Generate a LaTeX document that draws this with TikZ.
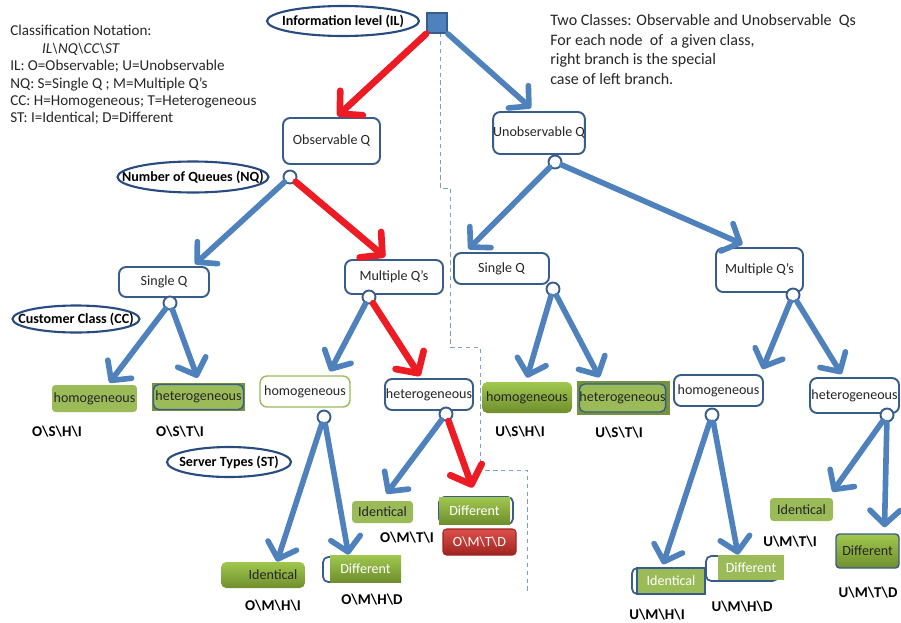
\documentclass[tikz,border=0pt]{standalone}
\usepackage{fontspec}
\setmainfont{Carlito}
\usetikzlibrary{arrows.meta,shapes.geometric,calc}

\definecolor{boxblue}{RGB}{56,93,138}
\definecolor{ovblue}{RGB}{41,76,128}
\definecolor{arrblue}{RGB}{79,129,189}
\definecolor{arrred}{RGB}{237,28,36}
\definecolor{grn}{RGB}{155,187,89}
\definecolor{grnlt}{RGB}{160,200,78}
\definecolor{grndk}{RGB}{112,142,46}
\definecolor{grnedge}{RGB}{118,146,60}
\definecolor{redlt}{RGB}{220,80,76}
\definecolor{reddk}{RGB}{160,36,32}
\definecolor{txtgray}{RGB}{38,38,38}

\newcommand\ovtext[1]{\makebox[0pt]{\bfseries #1}}
\newcommand\bsep{\textbackslash}

\tikzset{
  qbox/.style={draw=boxblue, line width=1.1pt, rounded corners=4pt, fill=white,
    inner sep=0pt, text=txtgray, font=\fontsize{8}{9}\selectfont},
  oval/.style={ellipse, draw=ovblue, line width=1.2pt, fill=white, inner sep=0pt,
    font=\fontsize{8}{9}\selectfont},
  knot/.style={circle, draw=boxblue, line width=1.1pt, fill=white,
    minimum size=2.6mm, inner sep=0pt},
  barrow/.style={draw=arrblue, line width=3.2pt, line cap=round,
    -{Straight Barb[length=8pt,width=17pt,round]}},
  rarrow/.style={draw=arrred, line width=3.8pt, line cap=round,
    -{Straight Barb[length=9pt,width=19pt,round]}},
  leaf/.style={inner sep=0pt, text=txtgray, font=\fontsize{8}{9}\selectfont},
  flatgrn/.style={leaf, fill=grn, rounded corners=2pt},
  shadegrn/.style={leaf, top color=grnlt, bottom color=grndk, rounded corners=3pt},
  whitegrn/.style={leaf, fill=grn, text=white},
  ghost/.style={draw=boxblue, line width=1pt, fill=white, rounded corners=3pt, inner sep=0pt},
  redbox/.style={leaf, top color=redlt, bottom color=reddk, draw=reddk, line width=.6pt,
    rounded corners=2pt, text=white},
  code/.style={font=\fontsize{8.5}{10}\selectfont\bfseries, text=black},
  note/.style={align=left, anchor=north west, inner sep=0pt, text=txtgray},
  dashline/.style={draw=arrblue!75, line width=.5pt, dash pattern=on 2.5pt off 2pt}
}

\begin{document}
\begin{tikzpicture}[x=0.02cm, y=-0.02cm]
\useasboundingbox (0,0) rectangle (901,622);

\node[note, font=\fontsize{8.6}{9.9}\selectfont] (notation) at (10,25)
  {Classification Notation:\\
   \hspace{2.1em}\textit{IL\bsep NQ\bsep CC\bsep ST}\\
   IL: O=Observable; U=Unobservable\\
   NQ: S=Single Q ; M=Multiple Q’s\\
   CC: H=Homogeneous; T=Heterogeneous\\
   ST: I=Identical; D=Different};
\node[note, font=\fontsize{9.1}{11.2}\selectfont] (remark) at (550,14)
  {Two Classes: Observable and Unobservable \ Qs\\
   For each node \ of \ a given class,\\
   right branch is the special\\
   case of left branch.};

\draw[dashline] (440,33) -- (440,188) -- (450,188) -- (450,347) -- (480,347)
  -- (480,470) -- (527,470) -- (527,593);

% levels
\node[oval, minimum width=30.4mm, minimum height=6mm] (ilo) at (343,21) {\ovtext{Information level (IL)}};
\node[oval, minimum width=30.2mm, minimum height=6.2mm] (nqo) at (193,177) {\ovtext{Number of Queues (NQ)}};
\node[oval, minimum width=25.4mm, minimum height=5.4mm] (cco) at (76,319) {\ovtext{Customer Class (CC)}};
\node[oval, minimum width=24.8mm, minimum height=6mm] (sto) at (229,462) {\ovtext{Server Types (ST)}};
\node[draw=boxblue, fill=arrblue, line width=1pt, minimum size=4mm, inner sep=0pt] (il) at (437,23) {};

% inner nodes
\node[qbox, minimum width=19.4mm, minimum height=9.2mm] (oq) at (331.5,141) {Observable Q};
\node[qbox, minimum width=17.4mm, minimum height=8.4mm] (uq) at (539,133) {Unobservable Q};
\node[qbox, minimum width=18mm, minimum height=6mm] (sql) at (164,282) {Single Q};
\node[qbox, minimum width=19.6mm, minimum height=6.8mm] (mql) at (394,277) {Multiple Q’s};
\node[qbox, minimum width=19mm, minimum height=6.2mm] (sqr) at (501.5,268.5) {Single Q};
\node[qbox, minimum width=17.4mm, minimum height=8.8mm] (mqr) at (759.5,270) {Multiple Q’s};
\node[qbox, draw=grn, line width=.8pt, minimum width=18mm, minimum height=6.2mm] (hom) at (305,391.5) {homogeneous};
\node[qbox, minimum width=17.6mm, minimum height=6.2mm] (hem) at (429,394.5) {heterogeneous};
\node[qbox, minimum width=17.8mm, minimum height=6.2mm] (homr) at (718.5,390.5) {homogeneous};
\node[qbox, minimum width=17.8mm, minimum height=7mm] (hemr) at (854.5,395.5) {heterogeneous};

\node[knot] (c0) at (290,177) {};
\node[knot] (c1) at (555,162) {};
\node[knot] (c2) at (170,303) {};
\node[knot] (c3) at (369,297) {};
\node[knot] (c4) at (553,289) {};
\node[knot] (c5) at (793,295) {};
\node[knot] (c6) at (324,417) {};
\node[knot] (c7) at (446,414) {};
\node[knot] (c8) at (712,415) {};
\node[knot] (c9) at (887,415) {};

% leaves
\node[flatgrn, minimum width=17mm, minimum height=5.4mm] (hol) at (94.5,398.5) {homogeneous};
\node[fill=grnedge, minimum width=18.6mm, minimum height=5.6mm, inner sep=0pt] (helo) at (198.5,397) {};
\node[leaf, fill=grn, draw=boxblue, line width=.8pt, rounded corners=3pt,
  minimum width=18mm, minimum height=5mm] (hel) at (198.5,397) {heterogeneous};
\node[shadegrn, minimum width=18mm, minimum height=6.2mm] (hor) at (527,397.5) {homogeneous};
\node[fill=grnedge, minimum width=18.6mm, minimum height=6.8mm, inner sep=0pt] (hero) at (623.5,398) {};
\node[leaf, fill=grn, draw=boxblue, line width=.8pt, rounded corners=3pt,
  minimum width=17mm, minimum height=5.6mm] (her) at (622.5,398) {heterogeneous};

\node[shadegrn, minimum width=16.8mm, minimum height=5.2mm] (idl1) at (263,575) {\hspace{4mm}Identical};
\node[ghost, minimum width=14.8mm, minimum height=5mm] (dfl1o) at (360,569.5) {};
\node[whitegrn, top color=grnlt, bottom color=grndk, minimum width=14.2mm, minimum height=5.4mm] (dfl1) at (365.5,568.5) {Different};
\node[flatgrn, minimum width=12.2mm, minimum height=4.4mm] (idl2) at (382.5,512) {Identical};
\node[ghost, minimum width=14.8mm, minimum height=5.4mm] (dfl2o) at (476,510.5) {};
\node[whitegrn, top color=grnlt, bottom color=grndk, minimum width=14.2mm, minimum height=5.4mm] (dfl2) at (474.5,510.5) {Different};
\node[redbox, minimum width=14.6mm, minimum height=5.2mm] (omtd) at (479.5,542) {O\bsep M\bsep T\bsep D};
\node[ghost, minimum width=14.6mm, minimum height=5.2mm] (idr1o) at (668.5,581) {};
\node[whitegrn, draw=boxblue, line width=.8pt, minimum width=13.6mm, minimum height=5.2mm] (idr1) at (671,581) {Identical};
\node[ghost, minimum width=14.4mm, minimum height=5mm] (dfr1o) at (742,568.5) {};
\node[whitegrn, minimum width=13.2mm, minimum height=5mm] (dfr1) at (751,567.5) {Different};
\node[flatgrn, minimum width=12.6mm, minimum height=4.6mm] (idr2) at (801.5,509.5) {Identical};
\node[shadegrn, draw=boxblue, line width=.8pt, rounded corners=2pt,
  minimum width=12.6mm, minimum height=6.8mm] (dfr2) at (867.5,551) {Different};

% codes
\node[code] (oshi) at (57,432) {O\bsep S\bsep H\bsep I};
\node[code] (osti) at (180,432) {O\bsep S\bsep T\bsep I};
\node[code] (ushi) at (520,432) {U\bsep S\bsep H\bsep I};
\node[code] (usti) at (619,433) {U\bsep S\bsep T\bsep I};
\node[code] (omhi) at (273,606) {O\bsep M\bsep H\bsep I};
\node[code] (omhd) at (372,600) {O\bsep M\bsep H\bsep D};
\node[code] (omti) at (407,538) {O\bsep M\bsep T\bsep I};
\node[code] (umhi) at (657,615) {U\bsep M\bsep H\bsep I};
\node[code] (umhd) at (742,607) {U\bsep M\bsep H\bsep D};
\node[code] (umti) at (790,542) {U\bsep M\bsep T\bsep I};
\node[code] (umtd) at (868,593) {U\bsep M\bsep T\bsep D};

% branches
\draw[rarrow] (il.south west) -- ($(oq.north)+(6,-1)$);
\draw[barrow] (il.south east) -- ($(uq.north)+(-8,-3)$);
\draw[barrow] (c0) -- ($(sql.north)+(31,-2)$);
\draw[rarrow] (c0) -- ($(mql.north)+(-9,-2)$);
\draw[barrow] (c1) -- ($(sqr.north)+(-33,-3)$);
\draw[barrow] (c1) -- ($(mqr.north)+(-17,-3)$);
\draw[barrow] (c2) -- ($(hol.north)+(15,-2)$);
\draw[barrow] (c2) -- ($(hel.north)+(-1,-6)$);
\draw[barrow] (c3) -- ($(hom.north)+(25,-4)$);
\draw[rarrow] (c3) -- ($(hem.north)+(-9,-2)$);
\draw[barrow] (c4) -- ($(hor.north)+(0,-4)$);
\draw[barrow] (c4) -- ($(her.north)+(-23,-6)$);
\draw[barrow] (c5) -- ($(homr.north)+(44,-5)$);
\draw[barrow] (c5) -- ($(hemr.north)+(-13,-3)$);
\draw[barrow] (c6) -- ($(idl1.north)+(14,0)$);
\draw[barrow] (c6) -- ($(dfl1.north)+(-17,0)$);
\draw[barrow] (c7) -- ($(idl2.north)+(4,-7)$);
\draw[rarrow] (c7) -- ($(dfl2.north)+(-2,-9)$);
\draw[barrow] (c8) -- ($(idr1.north)+(-8,-3)$);
\draw[barrow] (c8) -- ($(dfr1.north)+(-13,0)$);
\draw[barrow] (c9) -- ($(idr2.north)+(31,-6)$);
\draw[barrow] (c9) -- ($(dfr2.north)+(17,-6)$);
\end{tikzpicture}
\end{document}
